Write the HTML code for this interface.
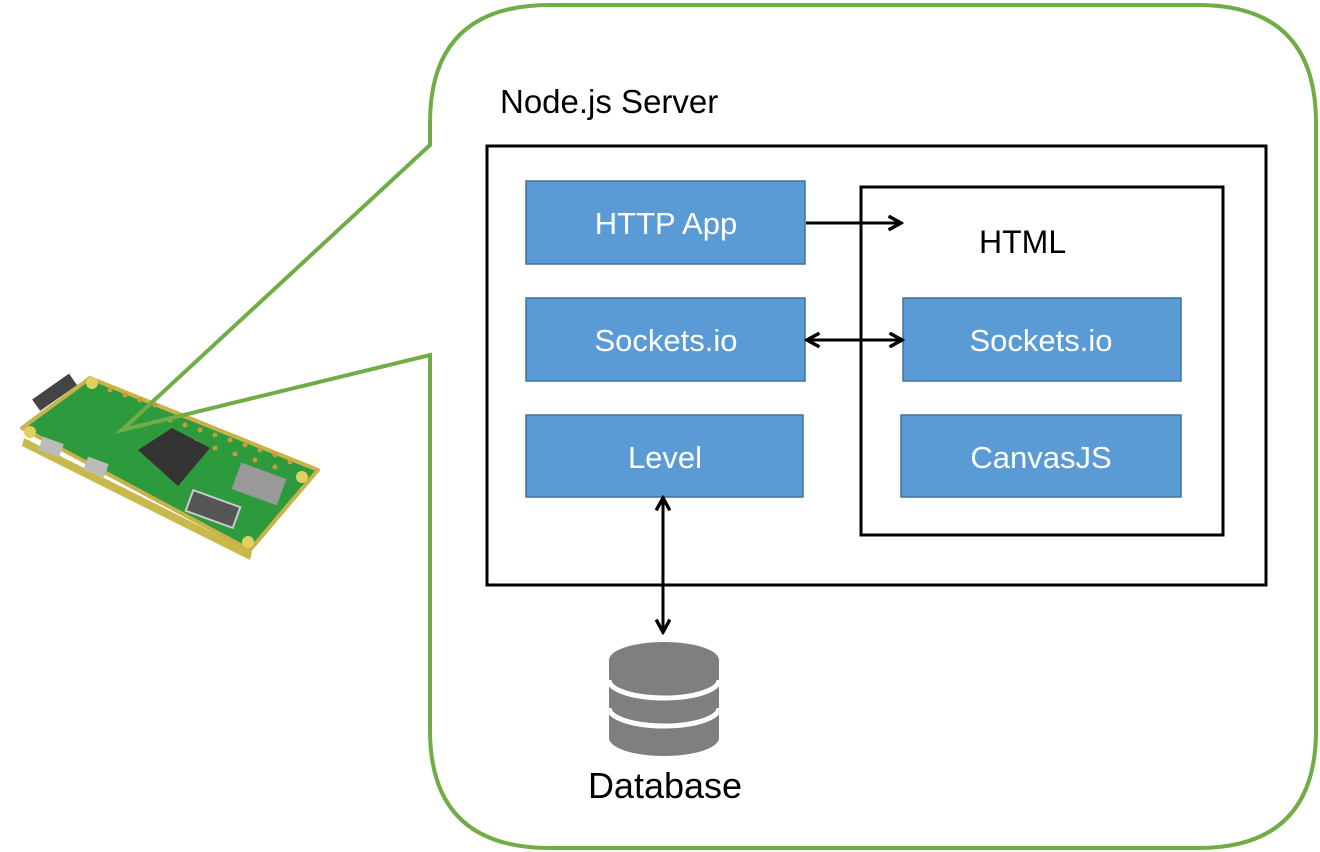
<!DOCTYPE html>
<html><head><style>
body{margin:0;background:#fff;}
svg{display:block;font-family:"Liberation Sans",sans-serif;}
</style></head><body>
<svg width="1320" height="852" viewBox="0 0 1320 852">
<defs>
<marker id="ah" markerWidth="16" markerHeight="16" refX="11" refY="7" orient="auto-start-reverse" markerUnits="userSpaceOnUse" viewBox="0 0 14 14">
<path d="M1,1 L12,7 L1,13" fill="none" stroke="#000" stroke-width="3"/>
</marker>
</defs>
<!-- Pi board -->
<g>
<path d="M22,428 L90,378 L318,470 L250,550 Z" fill="#2e9a3e" stroke="#c8b24a" stroke-width="4" stroke-linejoin="round"/>
<path d="M24,438 L252,552 L250,560 L22,446Z" fill="#c9b84a"/>
<circle cx="30" cy="432" r="6" fill="#e0d060"/><circle cx="92" cy="383" r="6" fill="#e0d060"/>
<circle cx="302" cy="477" r="6" fill="#e0d060"/><circle cx="248" cy="542" r="6" fill="#e0d060"/>
<g fill="#c89a3a">
<circle cx="110" cy="390" r="2.5"/><circle cx="125" cy="395" r="2.5"/><circle cx="140" cy="400" r="2.5"/><circle cx="155" cy="405" r="2.5"/>
<circle cx="170" cy="420" r="2.5"/><circle cx="185" cy="425" r="2.5"/><circle cx="200" cy="430" r="2.5"/><circle cx="215" cy="435" r="2.5"/>
<circle cx="230" cy="440" r="2.5"/><circle cx="245" cy="445" r="2.5"/><circle cx="260" cy="450" r="2.5"/><circle cx="275" cy="455" r="2.5"/>
<circle cx="290" cy="462" r="2.5"/><circle cx="195" cy="442" r="2.5"/><circle cx="215" cy="448" r="2.5"/><circle cx="235" cy="454" r="2.5"/><circle cx="255" cy="460" r="2.5"/><circle cx="275" cy="467" r="2.5"/>
</g>
<path d="M138,450 L172,428 L210,448 L178,486 Z" fill="#333"/>
<rect x="32" y="385" width="45" height="14" fill="#444" transform="rotate(-35 55 392)"/>
<rect x="40" y="440" width="22" height="14" fill="#bbb" transform="rotate(20 51 447)"/>
<rect x="85" y="460" width="22" height="14" fill="#bbb" transform="rotate(20 96 467)"/>
<rect x="188" y="498" width="50" height="22" fill="#555" stroke="#ccc" stroke-width="2" transform="rotate(20 213 509)"/>
<rect x="235" y="470" width="48" height="28" fill="#999" transform="rotate(20 259 484)"/>
</g>
<!-- callout -->
<path d="M430,145 L122,430 L430,355 L430,730 Q430,848 550,848 L1198,848 Q1316,848 1316,730 L1316,123 Q1316,5 1198,5 L550,5 Q430,5 430,123 Z" fill="none" stroke="#70ad47" stroke-width="4" stroke-linejoin="miter"/>
<text x="500" y="113" font-size="33">Node.js Server</text>
<rect x="487" y="146" width="779" height="439" fill="none" stroke="#000" stroke-width="3"/>
<rect x="861" y="187" width="362" height="348" fill="none" stroke="#000" stroke-width="3"/>
<text x="979" y="253" font-size="32">HTML</text>
<g fill="#5b9bd5" stroke="#41719c" stroke-width="1.5">
<rect x="526" y="181" width="279" height="83"/>
<rect x="526" y="298" width="279" height="83"/>
<rect x="526" y="415" width="277" height="82"/>
<rect x="903" y="298" width="278" height="83"/>
<rect x="901" y="415" width="280" height="82"/>
</g>
<g fill="#fff" font-size="31" text-anchor="middle">
<text x="666" y="234">HTTP App</text>
<text x="666" y="351">Sockets.io</text>
<text x="665" y="468">Level</text>
<text x="1041" y="351">Sockets.io</text>
<text x="1041" y="468">CanvasJS</text>
</g>
<g stroke="#000" stroke-width="3" fill="none">
<line x1="806" y1="223" x2="900" y2="223" marker-end="url(#ah)"/>
<line x1="808" y1="340" x2="901" y2="340" marker-end="url(#ah)" marker-start="url(#ah)"/>
<line x1="663" y1="499" x2="663" y2="631" marker-end="url(#ah)" marker-start="url(#ah)"/>
</g>
<!-- db -->
<g fill="#7f7f7f">
<path d="M609,660 L609,738 A55,18 0 0 0 719,738 L719,660 Z"/>
<ellipse cx="664" cy="660" rx="55" ry="18"/>
</g>
<g fill="none" stroke="#fff" stroke-width="5">
<path d="M609,680 A55,18 0 0 0 719,680"/>
<path d="M609,708 A55,18 0 0 0 719,708"/>
</g>
<text x="665" y="798" font-size="36" text-anchor="middle">Database</text>
</svg>
</body></html>
